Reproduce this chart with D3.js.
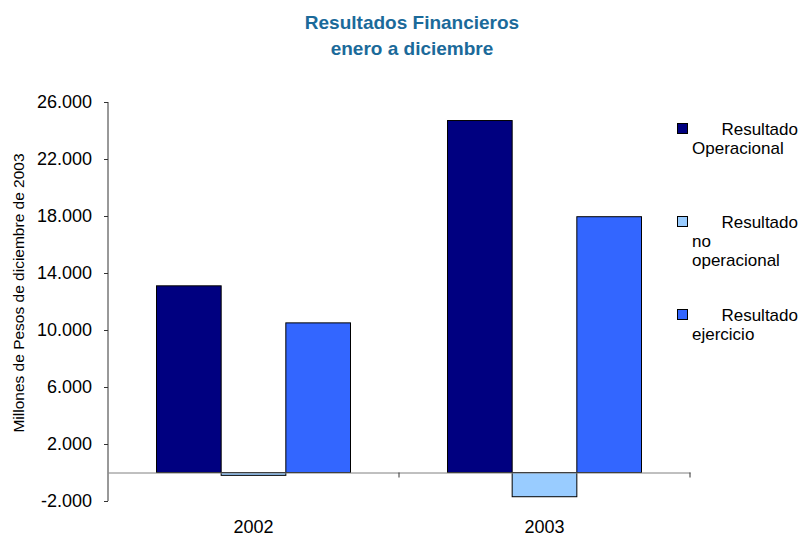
<!DOCTYPE html>
<html>
<head>
<meta charset="utf-8">
<script src="https://cdn.jsdelivr.net/npm/d3@7"></script>
<style>
  body { margin: 0; background: #fff; }
  svg { font-family: "Liberation Sans", Arial, sans-serif; }
</style>
</head>
<body>
<svg id="chart" width="800" height="536"></svg>
<script>
const years = ["2002", "2003"];
const seriesNames = ["Resultado Operacional", "Resultado no operacional", "Resultado ejercicio"];
const operacional = [13100, 24700];
const noOperacional = [-200, -1700];
const ejercicio = [10500, 17950];
const yTicks = [-2000, 2000, 6000, 10000, 14000, 18000, 22000, 26000];

const colors = ["#000080", "#99CCFF", "#3366FF"];
const allSeries = [operacional, noOperacional, ejercicio];

const svg = d3.select("#chart");
const plotLeft = 108, plotRight = 690, plotTop = 102, plotBottom = 501;

const x0 = d3.scaleBand().domain(years).range([plotLeft, plotRight]).paddingInner(0).paddingOuter(0);
const x1 = d3.scaleBand().domain(d3.range(seriesNames.length)).range([0, x0.bandwidth()]).paddingInner(0).paddingOuter(0.75);
const y = d3.scaleLinear().domain([-2000, 26000]).range([plotBottom, plotTop]);

// title
svg.append("text")
  .attr("x", 412).attr("y", 29)
  .attr("text-anchor", "middle")
  .attr("font-size", 19).attr("font-weight", "bold")
  .attr("fill", "#1B6A9A")
  .text("Resultados Financieros");
svg.append("text")
  .attr("x", 412).attr("y", 55)
  .attr("text-anchor", "middle")
  .attr("font-size", 19).attr("font-weight", "bold")
  .attr("fill", "#1B6A9A")
  .text("enero a diciembre");

// bars
const fmt = d => d3.format(",")(d).replace(/,/g, ".").replace("\u2212", "-");
years.forEach((yr, i) => {
  const g = svg.append("g").attr("transform", `translate(${x0(yr)},0)`);
  allSeries.forEach((vals, s) => {
    const v = vals[i];
    g.append("rect")
      .attr("x", x1(s))
      .attr("width", x1.bandwidth())
      .attr("y", y(Math.max(0, v)))
      .attr("height", Math.abs(y(v) - y(0)))
      .attr("fill", colors[s])
      .attr("stroke", "#000")
      .attr("stroke-width", 1);
  });
});

// y axis
const yAxis = svg.append("g")
  .attr("transform", `translate(${plotLeft},0)`)
  .call(d3.axisLeft(y).tickValues(yTicks).tickSize(4).tickSizeOuter(0).tickFormat(fmt));
yAxis.select(".domain").attr("stroke", "#333").attr("d", `M0,${plotTop}V${plotBottom}`);
yAxis.selectAll(".tick line").attr("stroke", "#333");
yAxis.selectAll("text").attr("font-size", 18).attr("fill", "#000").attr("x", -16).attr("font-family", "Liberation Sans, Arial, sans-serif");

// x axis at zero
const xAxis = svg.append("g")
  .attr("transform", `translate(0,${y(0)})`)
  .call(d3.axisBottom(x0).tickSize(4).tickSizeOuter(0).tickFormat(""));
xAxis.select(".domain").attr("stroke", "#808080");
xAxis.selectAll(".tick line").remove();
[plotLeft + x0.bandwidth(), plotRight].forEach(px => {
  xAxis.append("line").attr("x1", px).attr("x2", px).attr("y1", 0).attr("y2", 5).attr("stroke", "#333");
});

// category labels
svg.append("g").selectAll("text").data(years).join("text")
  .attr("x", d => x0(d) + x0.bandwidth() / 2)
  .attr("y", 533)
  .attr("text-anchor", "middle")
  .attr("font-size", 18)
  .text(d => d);

// y label
svg.append("text")
  .attr("transform", "translate(24,293) rotate(-90)")
  .attr("text-anchor", "middle")
  .attr("font-size", 15.5)
  .text("Millones de Pesos de diciembre de 2003");

// legend
const legendLines = [["Operacional"], ["no", "operacional"], ["ejercicio"]];
const legendBase = [135, 228, 321];
seriesNames.forEach((name, s) => {
  const ly = legendBase[s];
  svg.append("rect")
    .attr("x", 677.5).attr("y", ly - 11.5)
    .attr("width", 10).attr("height", 10)
    .attr("fill", colors[s]).attr("stroke", "#000");
  svg.append("text")
    .attr("x", 798).attr("y", ly)
    .attr("text-anchor", "end")
    .attr("font-size", 17)
    .text("Resultado");
  legendLines[s].forEach((t, k) => {
    svg.append("text")
      .attr("x", 692).attr("y", ly + 19 + k * 19)
      .attr("font-size", 17)
      .text(t);
  });
});
</script>
</body>
</html>
